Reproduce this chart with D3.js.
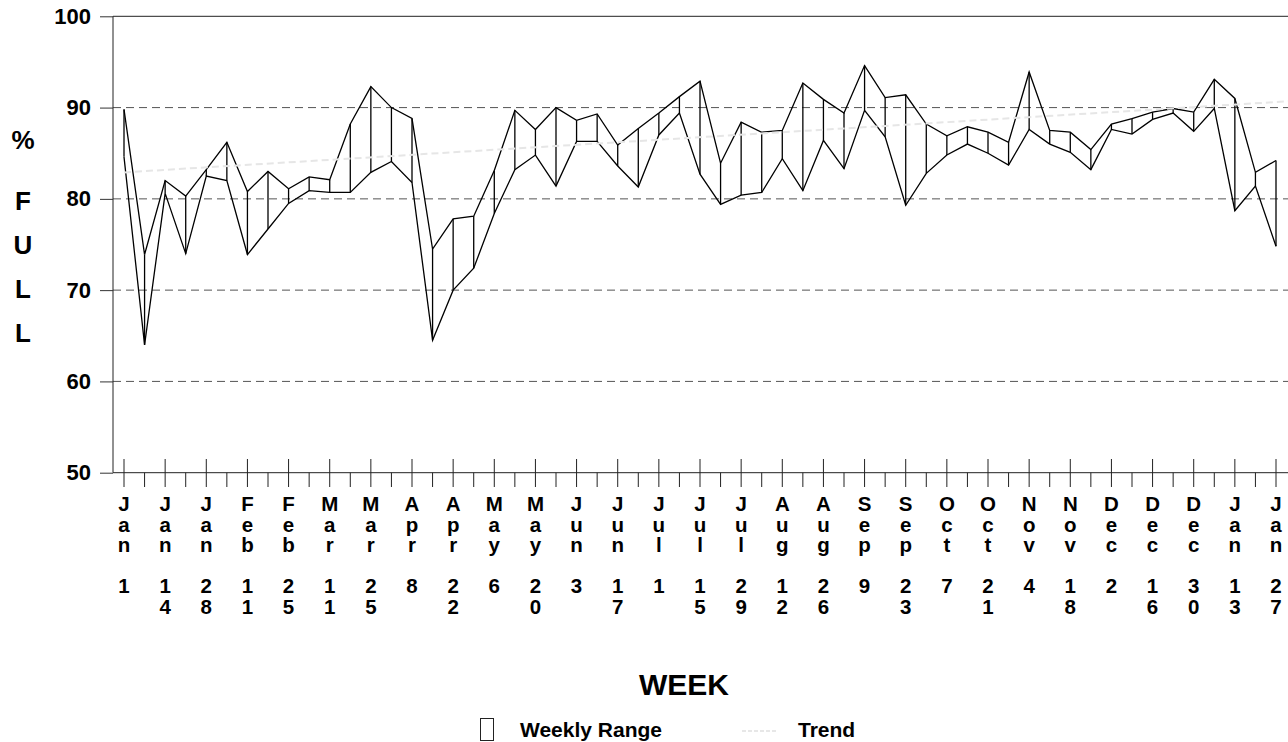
<!DOCTYPE html>
<html>
<head>
<meta charset="utf-8">
<script src="https://cdnjs.cloudflare.com/ajax/libs/d3/7.8.5/d3.min.js"></script>
<style>
    html, body { margin: 0; padding: 0; background: #fff; }
    svg { display: block; font-family: "Liberation Sans", Arial, Helvetica, sans-serif; font-weight: bold; }
</style>
</head>
<body>
<div id="chart"></div>
<script>
//weekly high / low (% full), one value per week from Jan 1 to Jan 27
var weeklyHigh = [89.8, 73.9, 82.0, 80.3, 83.2, 86.2, 80.8, 83.0, 81.1, 82.4,
    82.1, 88.2, 92.3, 90.0, 88.8, 74.5, 77.8, 78.1, 83.1, 89.7,
    87.6, 90.0, 88.6, 89.3, 85.9, 87.7, 89.4, 91.2, 92.9, 83.9,
    88.4, 87.3, 87.5, 92.7, 90.9, 89.4, 94.6, 91.1, 91.4, 88.2,
    86.9, 87.9, 87.3, 86.2, 93.9, 87.5, 87.3, 85.4, 88.2, 88.8,
    89.5, 89.9, 89.5, 93.1, 91.0, 82.9, 84.2];
var weeklyLow = [84.6, 64.0, 80.6, 74.0, 82.5, 82.0, 73.9, 76.7, 79.5, 80.9,
    80.7, 80.7, 82.9, 84.1, 81.8, 64.5, 70.0, 72.4, 78.4, 83.2,
    84.8, 81.4, 86.3, 86.3, 83.6, 81.3, 87.0, 89.4, 82.7, 79.4,
    80.4, 80.7, 84.4, 80.9, 86.4, 83.3, 89.7, 86.8, 79.3, 82.8,
    84.8, 86.0, 85.0, 83.7, 87.6, 86.0, 85.1, 83.2, 87.6, 87.1,
    88.7, 89.4, 87.4, 89.9, 78.7, 81.4, 74.8];

//trend line end points (week, value)
var trendWeeks = [0, 56.7];
var trendValues = [82.9, 90.7];

//tick labels, one every second week
var labelMonths = ["Jan", "Jan", "Jan", "Feb", "Feb", "Mar", "Mar", "Apr", "Apr", "May",
    "May", "Jun", "Jun", "Jul", "Jul", "Jul", "Aug", "Aug", "Sep", "Sep",
    "Oct", "Oct", "Nov", "Nov", "Dec", "Dec", "Dec", "Jan", "Jan"];
var labelDays = ["1", "14", "28", "11", "25", "11", "25", "8", "22", "6",
    "20", "3", "17", "1", "15", "29", "12", "26", "9", "23",
    "7", "21", "4", "18", "2", "16", "30", "13", "27"];
var yTicks = [50, 60, 70, 80, 90, 100];
var yTitle = ["%", "F", "U", "L", "L"];

(function(){
    "use strict";
    var width = 1288, height = 742;
    var left = 113;

    var svg = d3.select("#chart").append("svg")
        .attr("width", width)
        .attr("height", height);

    var weeks = weeklyHigh.map(function(d, i){ return i; });
    var data = weeks.map(function(i){
        return {week: i, high: weeklyHigh[i], low: weeklyLow[i]};
    });

    var x = d3.scaleLinear().domain([0, weeks.length - 1]).range([124, 1276]);
    var y = d3.scaleLinear().domain([50, 100]).range([472.7, 16.3]);

    //horizontal grid, solid at 50 / 100, dashed in between
    svg.append("g").selectAll("line")
        .data(yTicks)
        .enter().append("line")
        .attr("x1", left)
        .attr("x2", width)
        .attr("y1", function(d){ return y(d); })
        .attr("y2", function(d){ return y(d); })
        .attr("stroke", function(d){ return (d === 50 || d === 100) ? "#222" : "#555"; })
        .attr("stroke-width", 1)
        .attr("stroke-dasharray", function(d){ return (d === 50 || d === 100) ? null : "8,5"; });

    //y axis
    var yAxis = d3.axisLeft(y).tickValues(yTicks).tickSize(13).tickPadding(9);
    var gy = svg.append("g")
        .attr("transform", "translate(" + left + ",0)")
        .call(yAxis);
    gy.select(".domain").attr("stroke", "#222").attr("d", "M0," + y(100) + "V" + y(50));
    gy.selectAll(".tick line").attr("stroke", "#333");
    gy.selectAll(".tick text")
        .attr("font-size", 22)
        .attr("font-weight", "bold")
        .attr("font-family", "Liberation Sans, Arial, sans-serif")
        .attr("fill", "#000");

    //x ticks: long every second week, short in between
    svg.append("g").selectAll("line")
        .data(weeks)
        .enter().append("line")
        .attr("x1", function(d){ return x(d); })
        .attr("x2", function(d){ return x(d); })
        .attr("y1", function(d){ return d % 2 === 0 ? 459 : y(50); })
        .attr("y2", 487)
        .attr("stroke", "#222")
        .attr("stroke-width", 1);

    //stacked tick labels
    var lab = svg.append("g").selectAll("text")
        .data(labelMonths)
        .enter().append("text")
        .attr("font-size", 20.5)
        .attr("text-anchor", "middle")
        .attr("fill", "#000");
    lab.each(function(m, i){
        var t = d3.select(this);
        var xi = x(i * 2);
        var rows = m.split("").concat([""]).concat(labelDays[i].split(""));
        rows.forEach(function(ch, r){
            if(ch === ""){ return; }
            t.append("tspan").attr("x", xi).attr("y", 511 + r * 20.6).text(ch);
        });
    });

    //weekly range: vertical bars + high and low outlines
    var ranges = svg.append("g");
    ranges.selectAll("line")
        .data(data)
        .enter().append("line")
        .attr("x1", function(d){ return x(d.week); })
        .attr("x2", function(d){ return x(d.week); })
        .attr("y1", function(d){ return y(d.high); })
        .attr("y2", function(d){ return y(d.low); })
        .attr("stroke", "#000")
        .attr("stroke-width", 1.3);

    var highLine = d3.line()
        .x(function(d){ return x(d.week); })
        .y(function(d){ return y(d.high); });
    var lowLine = d3.line()
        .x(function(d){ return x(d.week); })
        .y(function(d){ return y(d.low); });
    ranges.append("path").datum(data)
        .attr("d", highLine)
        .attr("fill", "none")
        .attr("stroke", "#000")
        .attr("stroke-width", 1.3);
    ranges.append("path").datum(data)
        .attr("d", lowLine)
        .attr("fill", "none")
        .attr("stroke", "#000")
        .attr("stroke-width", 1.3);

    //trend
    var trend = trendWeeks.map(function(w, i){ return [w, trendValues[i]]; });
    svg.append("path").datum(trend)
        .attr("d", d3.line()
            .x(function(d){ return x(d[0]); })
            .y(function(d){ return y(d[1]); }))
        .attr("fill", "none")
        .attr("stroke", "#e6e6e6")
        .attr("stroke-width", 2)
        .attr("stroke-dasharray", "7,4");

    //y title
    svg.append("g").selectAll("text")
        .data(yTitle)
        .enter().append("text")
        .attr("x", 23)
        .attr("y", function(d, i){ return i === 0 ? 149 : 210 + (i - 1) * 44; })
        .attr("text-anchor", "middle")
        .attr("font-size", 26)
        .attr("fill", "#000")
        .text(function(d){ return d; });

    //x title
    svg.append("text")
        .attr("x", 684)
        .attr("y", 695)
        .attr("text-anchor", "middle")
        .attr("font-size", 30)
        .attr("fill", "#000")
        .text("WEEK");

    //legend
    var legend = svg.append("g");
    legend.append("rect")
        .attr("x", 480.5).attr("y", 718.5)
        .attr("width", 13).attr("height", 22)
        .attr("fill", "#fff").attr("stroke", "#222").attr("stroke-width", 1);
    legend.append("text")
        .attr("x", 520).attr("y", 737)
        .attr("font-size", 21)
        .attr("fill", "#000")
        .text("Weekly Range");
    legend.append("line")
        .attr("x1", 742).attr("x2", 776)
        .attr("y1", 731).attr("y2", 731)
        .attr("stroke", "#cfcfcf")
        .attr("stroke-width", 1.2)
        .attr("stroke-dasharray", "4,2");
    legend.append("text")
        .attr("x", 798).attr("y", 737)
        .attr("font-size", 21)
        .attr("fill", "#000")
        .text("Trend");
})();
</script>
</body>
</html>
